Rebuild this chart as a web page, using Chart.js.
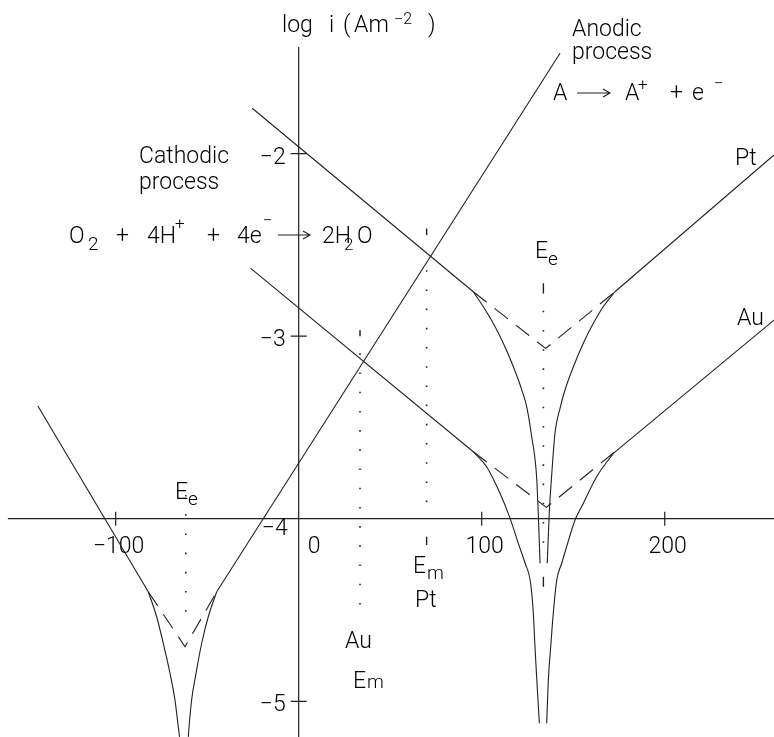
<!DOCTYPE html>
<html>
<head>
<meta charset="utf-8">
<script src="https://cdn.jsdelivr.net/npm/chart.js@4.4.1/dist/chart.umd.min.js"></script>
<style>
  html, body { margin: 0; padding: 0; background: #fff; }
  #wrap { width: 774px; height: 737px; }
</style>
</head>
<body>
<div id="wrap"><canvas id="c" width="774" height="737"></canvas></div>
<script>
// Mixed-potential diagram: log i (A m^-2) against electrode potential E (mV)

// Visible ranges and axis crossing point
const E_RANGE = [-163.2, 259.7];
const LOGI_RANGE = [-5.1955, -1.159];
const AXIS_CROSS = [0, -4];          // y axis drawn at E = 0, x axis at log i = -4
const X_AXIS_LEFT = -158.9;
const Y_AXIS_TOP = -1.417;
const xTicks = [-100, 0, 100, 200];
const yTicks = [-2, -3, -4, -5];

// A -> A+ + e- couple, equilibrium near E = -62 mV  ([E, log i])
const aCathodicLine = [[-142.5, -3.383], [-82.2, -4.400]];
const aCathodicCurve = [[-82.2, -4.400], [-77.6, -4.537], [-74.0, -4.682], [-70.3, -4.847], [-67.6, -4.993], [-65.8, -5.139], [-65.1, -5.195]];
const aAnodicCurve = [[-60.3, -5.195], [-59.9, -5.139], [-58.5, -4.993], [-56.1, -4.847], [-53.0, -4.682], [-49.4, -4.537], [-44.8, -4.400]];
const aAnodicLine = [[-44.8, -4.400], [142.8, -1.451]];
const aTafel = [[-82.2, -4.400], [-62.1, -4.701], [-44.8, -4.400]];

// O2 reduction on Pt, equilibrium near E = 134 mV
const ptCathodicLine = [[-25.4, -1.752], [95.4, -2.757]];
const ptCathodicCurve = [[95.4, -2.757], [100.9, -2.839], [106.3, -2.930], [111.8, -3.039], [117.3, -3.168], [121.9, -3.295], [124.6, -3.387], [127.3, -3.551], [130.1, -3.788], [131.9, -4.244]];
const ptAnodicCurve = [[135.8, -4.244], [136.9, -3.970], [138.3, -3.751], [140.1, -3.525], [142.8, -3.395], [145.5, -3.295], [150.1, -3.168], [155.5, -3.039], [161.0, -2.930], [166.4, -2.839], [172.8, -2.757]];
const ptAnodicLine = [[172.8, -2.757], [259.7, -2.008]];
const ptTafel = [[95.4, -2.757], [134.9, -3.067], [172.8, -2.757]];

// O2 reduction on Au
const auCathodicLine = [[-26.2, -2.629], [95.4, -3.633]];
const auCathodicCurve = [[95.4, -3.633], [102.7, -3.715], [110.0, -3.861], [115.5, -3.998], [120.0, -4.135], [123.7, -4.244], [126.7, -4.352], [128.2, -4.518], [129.1, -4.701], [130.1, -4.883], [131.5, -5.120]];
const auAnodicCurve = [[135.5, -5.120], [136.4, -4.883], [137.7, -4.701], [139.1, -4.518], [141.0, -4.336], [143.7, -4.244], [146.4, -4.153], [151.0, -4.007], [155.5, -3.916], [162.8, -3.770], [171.9, -3.642]];
const auAnodicLine = [[171.9, -3.642], [259.7, -2.912]];
const auTafel = [[95.4, -3.633], [135.3, -3.938], [172.3, -3.637]];

// Guide lines: [E, log i top, log i bottom]
const dottedGuides = [
  [-61.7, -3.870, -4.594],   // E_e of A/A+
  [133.7, -2.861, -4.214],   // E_e of O2/H2O
  [69.9, -2.639, -3.998],    // E_m on Pt
  [33.5, -3.094, -4.555]     // E_m on Au
];
const guideDashes = [
  [133.7, -2.711, -2.766],
  [133.7, -4.318, -4.372],
  [69.9, -2.410, -2.446],
  [69.9, -4.099, -4.144],
  [33.5, -2.967, -3.000]
];

const INK = '#202020';
const FONT = 'Roboto, "Liberation Sans", sans-serif';

function series(points, extra) {
  return Object.assign({
    data: points.map(([x, y]) => ({ x, y })),
    showLine: true,
    borderColor: INK,
    borderWidth: 1.1,
    pointRadius: 0,
    pointHoverRadius: 0,
    fill: false,
    tension: 0
  }, extra || {});
}
const curve = { cubicInterpolationMode: 'monotone' };
const dashed = { borderDash: [17, 10] };

const datasets = [
  series(aCathodicLine), series(aCathodicCurve, curve), series(aAnodicCurve, curve), series(aAnodicLine), series(aTafel, dashed),
  series(ptCathodicLine), series(ptCathodicCurve, curve), series(ptAnodicCurve, curve), series(ptAnodicLine), series(ptTafel, dashed),
  series(auCathodicLine), series(auCathodicCurve, curve), series(auAnodicCurve, curve), series(auAnodicLine), series(auTafel, dashed)
];
dottedGuides.forEach(([e, top, bottom]) => {
  datasets.push(series([[e, top], [e, bottom]], { borderDash: [1.6, 17.6], borderWidth: 1.6 }));
});
guideDashes.forEach(([e, top, bottom]) => {
  datasets.push(series([[e, top], [e, bottom]], { borderWidth: 1.4 }));
});

const fmt = v => (v < 0 ? '\u2212' : '') + Math.abs(v);

// Axes crossing inside the plot, with ticks straddling the lines
const crossAxes = {
  id: 'crossAxes',
  beforeDatasetsDraw(chart) {
    const { ctx, scales: { x, y } } = chart;
    const x0 = x.getPixelForValue(AXIS_CROSS[0]);
    const y0 = y.getPixelForValue(AXIS_CROSS[1]);
    ctx.save();
    ctx.strokeStyle = INK;
    ctx.lineWidth = 1.2;
    ctx.beginPath();
    ctx.moveTo(x0, y.getPixelForValue(Y_AXIS_TOP));
    ctx.lineTo(x0, chart.height);
    ctx.moveTo(x.getPixelForValue(X_AXIS_LEFT), y0);
    ctx.lineTo(chart.width, y0);
    xTicks.forEach(v => {
      if (v === AXIS_CROSS[0]) return;
      const px = x.getPixelForValue(v);
      ctx.moveTo(px, y0 - 7); ctx.lineTo(px, y0 + 7);
    });
    yTicks.forEach(v => {
      if (v === AXIS_CROSS[1]) return;
      const py = y.getPixelForValue(v);
      ctx.moveTo(x0 - 8, py); ctx.lineTo(x0 + 8, py);
    });
    ctx.stroke();

    ctx.fillStyle = '#000';
    ctx.font = '300 23px ' + FONT;
    xTicks.forEach(v => {
      const px = x.getPixelForValue(v);
      if (v === AXIS_CROSS[0]) {
        ctx.textAlign = 'left';
        ctx.fillText(fmt(v), x0 + 9, y0 + 34);
      } else {
        ctx.textAlign = 'center';
        ctx.fillText(fmt(v), px + 3, y0 + 34);
      }
    });
    ctx.textAlign = 'right';
    yTicks.forEach(v => {
      const py = y.getPixelForValue(v);
      if (v === AXIS_CROSS[1]) {
        ctx.fillText(fmt(v), x0 - 11, y0 + 16);
      } else {
        ctx.fillText(fmt(v), x0 - 13, py + 10);
      }
    });
    ctx.restore();
  }
};

// Text annotations: [text, left x, baseline y, font size]
const annotations = [
  ['log', 282, 32, 23], ['i', 329, 32, 23], ['(', 343, 32, 23], ['Am', 354, 32, 23], ['\u22122', 394, 24, 16], [')', 428, 32, 23],
  ['Anodic', 572, 36, 23], ['process', 572, 59, 23],
  ['A', 553, 100, 23], ['A', 625, 100, 23], ['+', 638, 90, 17], ['+', 670, 100, 23], ['e', 692, 100, 23], ['\u2212', 714, 89, 17],
  ['Cathodic', 139, 163, 23], ['process', 139, 189, 23],
  ['O', 69, 243, 23], ['2', 88, 250, 19], ['+', 116, 243, 23], ['4H', 147, 243, 23], ['+', 175, 229, 17],
  ['+', 207, 243, 23], ['4e', 237, 243, 23], ['\u2212', 263, 226, 17], ['2H', 322, 243, 23], ['2', 344, 250, 17], ['O', 357, 243, 23],
  ['Pt', 735, 165, 23],
  ['E', 535, 258, 23], ['e', 548, 265, 19],
  ['Au', 737, 325, 23],
  ['E', 175, 499, 23], ['e', 188, 505, 19],
  ['E', 413, 573, 23], ['m', 427, 579, 19], ['Pt', 415, 607, 23],
  ['Au', 345, 648, 23], ['E', 353, 688, 23], ['m', 367, 688, 19]
];
// Reaction arrows: [x start, x end, y]
const arrows = [[577, 610, 93], [278, 310, 235]];

const textLayer = {
  id: 'textLayer',
  afterDraw(chart) {
    const { ctx } = chart;
    ctx.save();
    ctx.fillStyle = '#000';
    ctx.textAlign = 'left';
    ctx.textBaseline = 'alphabetic';
    annotations.forEach(([t, x, y, s]) => {
      ctx.font = '300 ' + s + 'px ' + FONT;
      ctx.fillText(t, x, y);
    });
    ctx.strokeStyle = INK;
    ctx.lineWidth = 1.1;
    arrows.forEach(([x1, x2, y]) => {
      ctx.beginPath();
      ctx.moveTo(x1, y); ctx.lineTo(x2, y);
      ctx.moveTo(x2 - 7, y - 4); ctx.lineTo(x2, y); ctx.lineTo(x2 - 7, y + 4);
      ctx.stroke();
    });
    ctx.restore();
  }
};

new Chart(document.getElementById('c'), {
  type: 'scatter',
  data: { datasets },
  options: {
    responsive: false,
    animation: false,
    devicePixelRatio: 1,
    events: [],
    layout: { padding: 0 },
    scales: {
      x: { type: 'linear', min: E_RANGE[0], max: E_RANGE[1], display: false },
      y: { type: 'linear', min: LOGI_RANGE[0], max: LOGI_RANGE[1], display: false }
    },
    plugins: { legend: { display: false }, tooltip: { enabled: false } }
  },
  plugins: [crossAxes, textLayer]
});
</script>
</body>
</html>
